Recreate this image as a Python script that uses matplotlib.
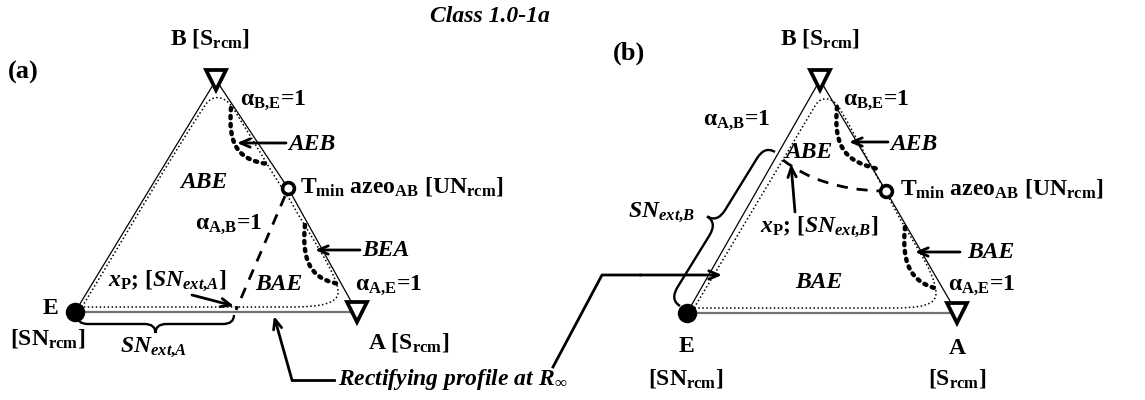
import numpy as np
import matplotlib
matplotlib.use("Agg")
import matplotlib.pyplot as plt
from matplotlib.path import Path
import matplotlib.patches as mpatches

plt.rcParams["mathtext.fontset"] = "custom"
plt.rcParams["mathtext.rm"] = "Liberation Serif:bold"
plt.rcParams["mathtext.bf"] = "Liberation Serif:bold"
plt.rcParams["mathtext.it"] = "Liberation Serif:italic:bold"
plt.rcParams["mathtext.sf"] = "Liberation Serif:bold"

SERIF = "Liberation Serif"
FS = 17

# -------------------------------------------------------------------
# Diagram geometry, in figure pixels (x right, y down)
# -------------------------------------------------------------------
# panel (a)
A_E = (75, 312)
A_A = (357, 312)
A_B = (216, 80)
A_TMIN = (288, 188)
A_XP = (236, 310)
# dotted residue-curve boundary (cubic Bezier control points)
A_BOUND = [(82, 307), (130, 228), (172, 155), (206, 104),
           (213, 94), (225, 96), (233, 108),
           (258, 148), (276, 180), (290, 200),
           (312, 240), (334, 268), (338, 290),
           (340, 304), (320, 307), (290, 307),
           (200, 307), (120, 307), (82, 307)]
A_AEB = [(231, 108), (228, 145), (238, 160), (268, 164)]
A_BEA = [(305, 225), (301, 265), (314, 280), (340, 284)]

# panel (b)
B_E = (687, 313)
B_A = (957, 313)
B_B = (820, 80)
B_TMIN = (886, 191)
B_XP = (783, 160)
B_BOUND = [(694, 308), (742, 228), (784, 158), (815, 106),
           (821, 95), (833, 97), (840, 109),
           (858, 140), (872, 168), (890, 200),
           (910, 240), (934, 268), (936, 292),
           (937, 306), (920, 308), (890, 308),
           (800, 308), (730, 308), (694, 308)]
B_AEB = [(837, 107), (833, 150), (848, 162), (878, 169)]
B_BAE = [(905, 227), (901, 268), (914, 283), (938, 289)]
B_DASH = [(B_XP[0], B_XP[1]), (820, 189), (B_TMIN[0] - 6, B_TMIN[1])]


def bezier(ax, pts, **kw):
    codes = [Path.MOVETO] + [Path.CURVE4] * (len(pts) - 1)
    ax.add_patch(mpatches.PathPatch(Path(pts, codes), fill=False, **kw))


def brace(ax, p0, p1, depth, r=9, lw=1.7):
    p0, p1 = np.array(p0, float), np.array(p1, float)
    L = np.linalg.norm(p1 - p0)
    u = (p1 - p0) / L
    n = np.array([-u[1], u[0]])
    h = depth / 2.0
    loc = [(0, 0), (0, h), (r, h), (L / 2 - r, h), (L / 2, h), (L / 2, depth),
           (L / 2, h), (L / 2 + r, h), (L - r, h), (L, h), (L, 0)]
    codes = [Path.MOVETO, Path.CURVE3, Path.CURVE3, Path.LINETO,
             Path.CURVE3, Path.CURVE3, Path.CURVE3, Path.CURVE3,
             Path.LINETO, Path.CURVE3, Path.CURVE3]
    verts = [tuple(p0 + a * u + b * n) for a, b in loc]
    ax.add_patch(mpatches.PathPatch(Path(verts, codes), fill=False,
                                    lw=lw, color="black"))


def arrow(ax, start, end, lw=2.0):
    ax.annotate("", xy=end, xytext=start,
                arrowprops=dict(arrowstyle="->,head_length=0.7,head_width=0.3",
                                lw=lw, color="black", shrinkA=0, shrinkB=0))


def txt(ax, x, y, s, italic=False, ha="left", size=FS):
    ax.text(x, y, s, ha=ha, va="center", fontsize=size, fontfamily=SERIF,
            fontweight="bold", fontstyle="italic" if italic else "normal")


def panel(ax, E, A, B, T, bound):
    # edges
    ax.plot([E[0], B[0]], [E[1], B[1]], color="black", lw=0.9)
    ax.plot([B[0], T[0], A[0]], [B[1], T[1], A[1]], color="black", lw=0.9)
    ax.plot([E[0], A[0]], [E[1], A[1]], color="0.45", lw=1.6)
    bezier(ax, bound, lw=1.1, color="black", linestyle=(0, (1, 1.6)))
    # vertices
    ax.plot(*B, marker="v", ms=14, mfc="white", mec="black", mew=2.7, zorder=5)
    ax.plot(*A, marker="v", ms=14, mfc="white", mec="black", mew=2.7, zorder=5)
    ax.plot(*E, marker="o", ms=13, color="black", zorder=5)
    ax.plot(*T, marker="o", ms=8.5, mfc="white", mec="black", mew=2.6, zorder=5)


fig = plt.figure(figsize=(11.45, 4.0), dpi=100)
ax = fig.add_axes([0, 0, 1, 1])
ax.set_xlim(0, 1145)
ax.set_ylim(400, 0)
ax.set_axis_off()

thick_dots = dict(lw=3.2, color="black", linestyle=(0, (0.5, 1.3)),
                  capstyle="round")

XP_A = r"$x_{\mathrm{P}}$; [$SN_{ext{,}A}$]"
XP_B = r"$x_{\mathrm{P}}$; [$SN_{ext{,}B}$]"

# ---------------- panel (a) ----------------
panel(ax, A_E, A_A, A_B, A_TMIN, A_BOUND)
bezier(ax, A_AEB, **thick_dots)
bezier(ax, A_BEA, **thick_dots)
ax.plot([A_TMIN[0] - 3, A_XP[0]], [A_TMIN[1] + 8, A_XP[1]], color="black",
        lw=2.0, linestyle=(0, (4, 3.2)))
brace(ax, (77, 315), (234, 315), 18, r=11)
arrow(ax, (286, 143), (237, 143))
arrow(ax, (360, 250), (315, 250))
arrow(ax, (192, 295), (234, 306))
ax.plot([334, 292], [380, 380], color="black", lw=2.0)
arrow(ax, (292, 380), (274, 316))

txt(ax, 8, 72, "(a)", size=19)
txt(ax, 170, 38, r"B [S$_{\mathrm{rcm}}$]")
txt(ax, 240, 100, r"α$_{\mathrm{B{,}E}}$=1")
txt(ax, 288, 144, "AEB", italic=True)
txt(ax, 180, 182, "ABE", italic=True)
txt(ax, 300, 187, r"T$_{\mathrm{min}}$ azeo$_{\mathrm{AB}}$ [UN$_{\mathrm{rcm}}$]")
txt(ax, 195, 224, r"α$_{\mathrm{A{,}B}}$=1")
txt(ax, 362, 251, "BEA", italic=True)
txt(ax, 355, 285, r"α$_{\mathrm{A{,}E}}$=1")
txt(ax, 108, 281, XP_A)
txt(ax, 255, 284, "BAE", italic=True)
txt(ax, 43, 309, "E")
txt(ax, 10, 338, r"[SN$_{\mathrm{rcm}}$]")
txt(ax, 120, 347, r"SN$_{ext{,}A}$", italic=True)
txt(ax, 368, 342, r"A [S$_{\mathrm{rcm}}$]")
txt(ax, 338, 380, r"Rectifying profile at R$_{\mathbf{\infty}}$", italic=True)

# ---------------- panel (b) ----------------
panel(ax, B_E, B_A, B_B, B_TMIN, B_BOUND)
bezier(ax, B_AEB, **thick_dots)
bezier(ax, B_BAE, **thick_dots)
dash = Path(B_DASH, [Path.MOVETO, Path.CURVE3, Path.CURVE3])
ax.add_patch(mpatches.PathPatch(dash, fill=False, lw=2.0, color="black",
                                linestyle=(0, (4, 3.2))))
brace(ax, (680, 306), (775, 152), -24, r=15)
arrow(ax, (888, 142), (849, 142))
arrow(ax, (960, 252), (915, 252))
arrow(ax, (795, 212), (791, 164))
ax.plot([553, 602, 640], [367, 275, 275], color="black", lw=2.0)
arrow(ax, (640, 275), (722, 275))

txt(ax, 613, 53, "(b)", size=19)
txt(ax, 780, 38, r"B [S$_{\mathrm{rcm}}$]")
txt(ax, 843, 100, r"α$_{\mathrm{B{,}E}}$=1")
txt(ax, 703, 120, r"α$_{\mathrm{A{,}B}}$=1")
txt(ax, 890, 144, "AEB", italic=True)
txt(ax, 785, 153, "ABE", italic=True)
txt(ax, 900, 189, r"T$_{\mathrm{min}}$ azeo$_{\mathrm{AB}}$ [UN$_{\mathrm{rcm}}$]")
txt(ax, 628, 212, r"SN$_{ext{,}B}$", italic=True)
txt(ax, 760, 227, XP_B)
txt(ax, 967, 252, "BAE", italic=True)
txt(ax, 795, 282, "BAE", italic=True)
txt(ax, 948, 285, r"α$_{\mathrm{A{,}E}}$=1")
txt(ax, 686, 347, "E", ha="center")
txt(ax, 686, 379, r"[SN$_{\mathrm{rcm}}$]", ha="center")
txt(ax, 957, 349, "A", ha="center")
txt(ax, 957, 379, r"[S$_{\mathrm{rcm}}$]", ha="center")

txt(ax, 490, 16, "Class 1.0-1a", italic=True, ha="center")

fig.savefig("out.png", dpi=100)
